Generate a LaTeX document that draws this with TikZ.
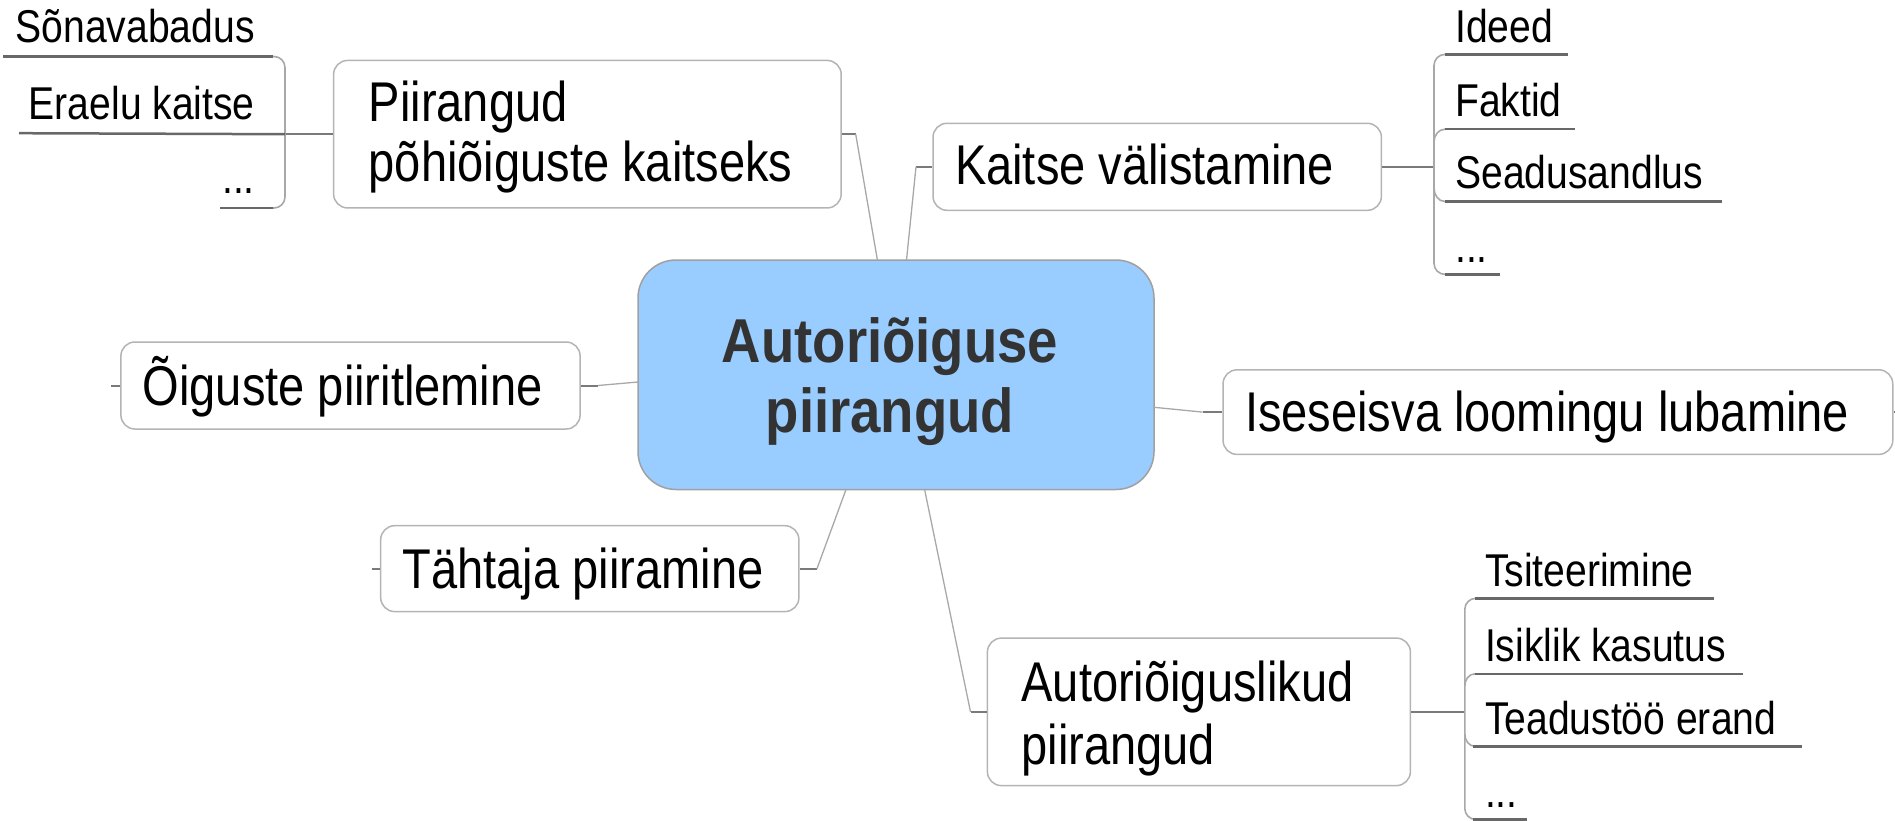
\documentclass[tikz,border=0pt]{standalone}
\usepackage{fontspec}
\setmainfont{Liberation Sans}
\newfontfamily\bigfont[FakeStretch=0.84]{Liberation Sans}
\newfontfamily\smallfont[FakeStretch=0.85]{Liberation Sans}
\newfontfamily\cenfont[FakeStretch=0.88]{Liberation Sans}
\definecolor{cfill}{HTML}{99CCFF}
\definecolor{cdraw}{HTML}{A0A0A0}
\definecolor{bdraw}{HTML}{B4B4B4}
\definecolor{cline}{HTML}{A8A8A8}
\definecolor{sline}{HTML}{7A7A7A}
\definecolor{uline}{HTML}{686868}
\definecolor{ctext}{HTML}{333333}
\tikzset{
  box/.style={draw=bdraw, line width=1.5pt, rounded corners=14pt, fill=white, inner sep=0pt, rectangle},
  cbox/.style={draw=cdraw, line width=1.5pt, rounded corners=38pt, fill=cfill, inner sep=0pt, rectangle},
  big/.style={font=\bigfont\fontsize{56}{60}\selectfont, inner sep=0pt, anchor=base west, text=black},
  small/.style={font=\smallfont\fontsize{46}{50}\selectfont, inner sep=0pt, text=black},
  ctxt/.style={font=\cenfont\bfseries\fontsize{62}{66}\selectfont, inner sep=0pt, anchor=base, text=ctext},
  conn/.style={draw=cline, line width=1.3pt},
  stub/.style={draw=sline, line width=2pt},
  ul/.style={draw=uline, line width=2.5pt},
  brk/.style={draw=cline, line width=1.6pt, rounded corners=11pt},
}
\begin{document}
\begin{tikzpicture}[x=1pt,y=-1pt]
\useasboundingbox (0,0) rectangle (1895,821);
% central
\node[cbox, minimum width=516pt, minimum height=229.5pt] (cen) at (896,374.75) {};
\node[ctxt] (cenA) at (890,362) {Autoriõiguse};
\node[ctxt] (cenB) at (890,432) {piirangud};
% boxes
\node[box, minimum width=507.6pt, minimum height=147.5pt] (pir) at (587.4,134.2) {};
\node[big] (pirA) at (368.6,121.5) {Piirangud};
\node[big] (pirB) at (368.6,182) {põhiõiguste kaitseks};
\node[box, minimum width=448.4pt, minimum height=87pt] (kv) at (1157.2,166.8) {};
\node[big] (kvT) at (954.8,185) {Kaitse välistamine};
\node[box, minimum width=459.2pt, minimum height=87pt] (oig) at (350.5,385.5) {};
\node[big] (oigT) at (142.6,405) {Õiguste piiritlemine};
\node[box, minimum width=669.7pt, minimum height=84.6pt] (ise) at (1557.9,412.1) {};
\node[big] (iseT) at (1244.9,431.5) {Iseseisva loomingu lubamine};
\node[box, minimum width=418.2pt, minimum height=85.9pt] (tah) at (589.8,568.65) {};
\node[big] (tahT) at (402.5,588.6) {Tähtaja piiramine};
\node[box, minimum width=423pt, minimum height=147.5pt] (aut) at (1198.9,711.85) {};
\node[big] (autA) at (1021.3,701.5) {Autoriõiguslikud};
\node[big] (autB) at (1021.3,764) {piirangud};
% junction coordinates
\coordinate (pirJ) at (855.7,134.2);
\coordinate (c1) at (877.4,260);
\coordinate (kvJ) at (916,166.8);
\coordinate (c2) at (906.5,260);
\coordinate (oigJ) at (598,385.5);
\coordinate (c3) at (638,382);
\coordinate (iseJ) at (1202.6,412.1);
\coordinate (c4) at (1154,407.3);
\coordinate (tahJ) at (817,568.65);
\coordinate (c5) at (846,489.5);
\coordinate (autJ) at (970.5,711.85);
\coordinate (c6) at (924.6,489.5);
% connectors to centre
\draw[stub] (pir.east) -- (pirJ);
\draw[conn] (pirJ) -- (c1);
\draw[stub] (kv.west) -- (kvJ);
\draw[conn] (kvJ) -- (c2);
\draw[stub] (oig.east) -- (oigJ);
\draw[conn] (oigJ) -- (c3);
\draw[stub] (ise.west) -- (iseJ);
\draw[conn] (iseJ) -- (c4);
\draw[stub] (tah.east) -- (tahJ);
\draw[conn] (tahJ) -- (c5);
\draw[stub] (aut.west) -- (autJ);
\draw[conn] (autJ) -- (c6);
% collapsed stubs
\coordinate (oigS) at (111,385.5);
\coordinate (tahS) at (372,568.65);
\coordinate (iseS) at (1895,412.1);
\draw[stub] (oig.west) -- (oigS);
\draw[stub] (tah.west) -- (tahS);
\draw[stub] (ise.east) -- (iseS);
% left leaves of pir
\coordinate (pirB) at (285,134.2);
\draw[stub] (pir.west) -- (pirB);
\draw[brk] (272,56.5) -- (285,56.5) -- (285,208) -- (272,208);
\node[small, anchor=base east] (l1) at (255,42.5) {Sõnavabadus};
\node[small, anchor=base east] (l2) at (255,120) {Eraelu kaitse};
\node[small, anchor=base east] (l3) at (255,193.5) {...};
\draw[ul] (3,56.5) -- (273,56.5);
\draw[ul] (19,133.2) -- (pirB);
\draw[ul] (220,208) -- (273,208);
% right leaves of kv
\coordinate (kvB) at (1434,166.8);
\draw[stub] (kv.east) -- (kvB);
\draw[brk] (1446,54.4) -- (1434,54.4) -- (1434,274.4) -- (1446,274.4);
\draw[brk] (1434,142) to[out=90,in=180] (1445,129.2);
\draw[brk] (1434,188) to[out=-90,in=180] (1445,201.5);
\node[small, anchor=base west] (r1) at (1455,42.4) {Ideed};
\node[small, anchor=base west] (r2) at (1455,116.5) {Faktid};
\node[small, anchor=base west] (r3) at (1455,189) {Seadusandlus};
\node[small, anchor=base west] (r4) at (1455,262) {...};
\draw[ul] (1445,54.4) -- (1568,54.4);
\draw[ul] (1445,129.2) -- (1575,129.2);
\draw[ul] (1445,201.5) -- (1722,201.5);
\draw[ul] (1445,274.4) -- (1500,274.4);
% right leaves of aut
\coordinate (autB) at (1464.8,711.85);
\draw[stub] (aut.east) -- (autB);
\draw[brk] (1476,598.3) -- (1464.8,598.3) -- (1464.8,819.5) -- (1476,819.5);
\draw[brk] (1464.8,686) to[out=90,in=180] (1475,673.8);
\draw[brk] (1464.8,734) to[out=-90,in=180] (1475,746.3);
\node[small, anchor=base west] (a1) at (1484.8,586) {Tsiteerimine};
\node[small, anchor=base west] (a2) at (1484.8,661.5) {Isiklik kasutus};
\node[small, anchor=base west] (a3) at (1484.8,734) {Teadustöö erand};
\node[small, anchor=base west] (a4) at (1484.8,807.5) {...};
\draw[ul] (1474.5,598.3) -- (1714.4,598.3);
\draw[ul] (1474.5,673.8) -- (1743.4,673.8);
\draw[ul] (1473,746.3) -- (1802,746.3);
\draw[ul] (1473,819.5) -- (1527,819.5);
\end{tikzpicture}
\end{document}
